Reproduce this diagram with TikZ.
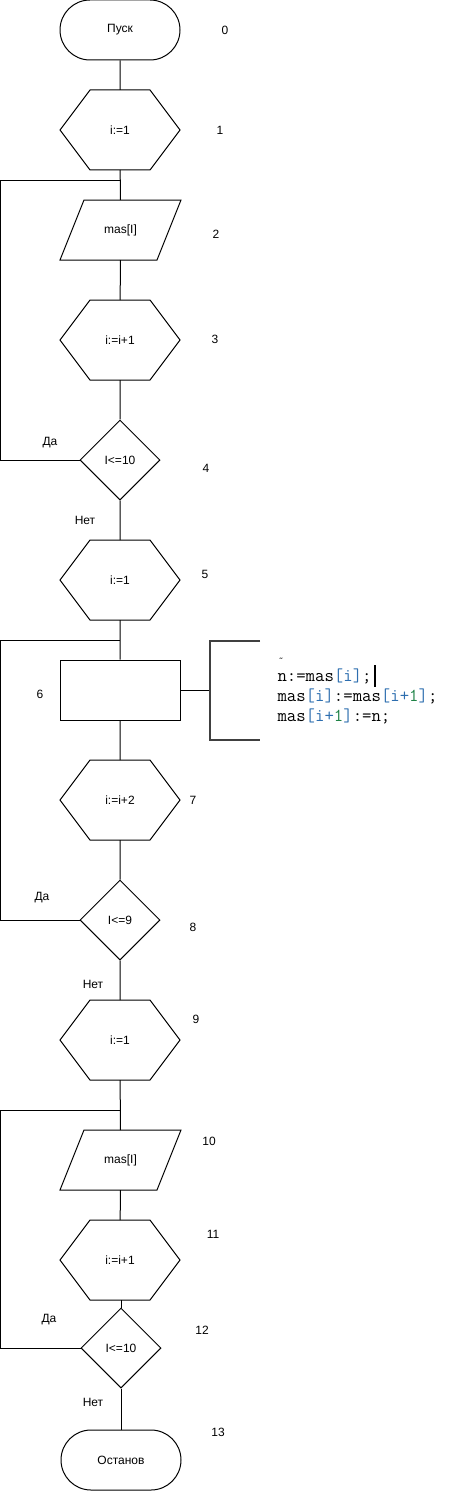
\documentclass[tikz,border=0pt]{standalone}
\usepackage{fontspec}
\setmainfont{Liberation Sans}
\usepackage{tikz}
\usetikzlibrary{calc,shapes.geometric}

\definecolor{codeblue}{RGB}{45,110,175}
\definecolor{codegreen}{RGB}{30,130,70}
\newcommand{\blu}[1]{\textcolor{codeblue}{#1}}
\newcommand{\grn}[1]{\textcolor{codegreen}{#1}}

\begin{document}
\begin{tikzpicture}[x=0.75pt, y=-0.75pt, line width=0.75pt, font=\fontsize{9}{11}\selectfont,
    box/.style={inner sep=0pt, outer sep=0pt, minimum width=90pt, minimum height=60pt},
    term/.style={draw, rounded corners=22.5pt, inner sep=0pt, minimum width=90pt, minimum height=45pt},
    ioshape/.style={inner sep=0pt, outer sep=0pt, minimum width=90.75pt, minimum height=45pt},
    cond/.style={draw, diamond, inner sep=0pt, minimum size=60pt},
    procbox/.style={draw, inner sep=0pt, minimum width=90pt, minimum height=45pt},
    code/.style={anchor=west, inner sep=0pt, font=\ttfamily\fontsize{13.7}{16}\selectfont},
    num/.style={inner sep=1pt}]
    \useasboundingbox (0, 0) rectangle (454, 1491);
    % blocks
    \node[term] (t0) at (120, 30) {Пуск};
    \node[box] (h1) at (120, 130) {i:=1};
    \node[ioshape] (p2) at (120.5, 230) {mas[I]};
    \node[box] (h3) at (120, 340) {i:=i+1};
    \node[cond] (d4) at (120, 460) {I<=10};
    \node[box] (h5) at (120, 580) {i:=1};
    \node[procbox] (r6) at (120, 690) {};
    \node[box] (h7) at (120, 800) {i:=i+2};
    \node[cond] (d8) at (120, 920) {I<=9};
    \node[box] (h9) at (120, 1040) {i:=1};
    \node[ioshape] (p10) at (120.5, 1160) {mas[I]};
    \node[box] (h11) at (120, 1260) {i:=i+1};
    \node[cond] (d12) at (121, 1348) {I<=10};
    \node[term] (t13) at (121, 1460) {Останов};
    \foreach \n in {h1, h3, h5, h7, h9, h11}
        \draw ($(\n.north west)+(22.5pt,0)$) -- ($(\n.north east)+(-22.5pt,0)$) -- (\n.east)
            -- ($(\n.south east)+(-22.5pt,0)$) -- ($(\n.south west)+(22.5pt,0)$) -- (\n.west) -- cycle;
    \foreach \n in {p2, p10}
        \draw ($(\n.north west)+(18pt,0)$) -- (\n.north east) -- ($(\n.south east)+(-18pt,0)$)
            -- (\n.south west) -- cycle;
    % numbers
    \foreach \k/\x/\y in {0/225/30, 1/220/130, 2/216/234, 3/215/339, 4/206/468, 5/205/574,
        6/40/694, 7/193/800, 8/193/927, 9/196/1019, 10/209/1141, 11/213/1234, 12/202/1330, 13/218/1432}
        \node[num] (n\k) at (\x, \y) {\k};
    \node (yes4) at (50, 443) {Да};
    \node (no4) at (85, 520) {Нет};
    \node (yes8) at (42, 898) {Да};
    \node (no8) at (93, 984) {Нет};
    \node (yes12) at (49, 1320) {Да};
    \node (no12) at (93, 1402) {Нет};
    % main line
    \coordinate (j1) at (120, 180);
    \coordinate (j2) at (120, 640);
    \coordinate (j3) at (120, 1110);
    \draw (t0) -- (h1) -- (p2) -- (h3) -- (d4) -- (h5) -- (r6) -- (h7) -- (d8) -- (h9) -- (p10) -- (h11);
    \draw (h11.south -| d12.north) -- (d12) -- (t13);
    % loops
    \draw (d4.west) -- (d4.west -| 0.5, 0) |- (j1);
    \draw (d8.west) -- (d8.west -| 0.5, 0) |- (j2);
    \draw (d12.west) -- (d12.west -| 0.5, 0) |- (j3);
    % comment bracket
    \coordinate (brtop) at (260, 641);
    \coordinate (brbot) at (260, 740);
    \draw (r6.east) -- (210, 690);
    \draw[line width=2pt, black!75] (brtop) -- (210, 641) -- (210, 740) -- (brbot);
    \node[code] (c1) at (277, 676) {n:=mas\blu{[i]};};
    \node[code] (c2) at (277, 696) {mas\blu{[i]}:=mas\blu{[i+}\grn{1}\blu{]};};
    \node[code] (c3) at (277, 716) {mas\blu{[i+}\grn{1}\blu{]}:=n;};
    \draw[line width=1.5pt] ($(c1.east)+(2.5pt,-8pt)$) -- ($(c1.east)+(2.5pt,8pt)$);
    \node[code, font=\ttfamily\fontsize{7}{8}\selectfont] (c0) at (278, 660) {\textasciitilde};
\end{tikzpicture}
\end{document}
